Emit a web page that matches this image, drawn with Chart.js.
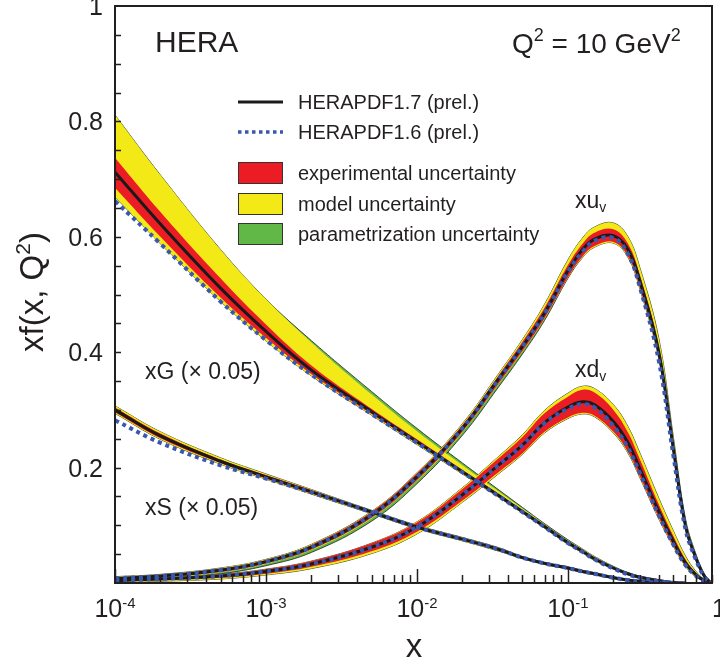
<!DOCTYPE html>
<html>
<head>
<meta charset="utf-8">
<script src="https://cdn.jsdelivr.net/npm/chart.js@4.4.1/dist/chart.umd.min.js"></script>
<style>
  html, body { margin: 0; padding: 0; background: #fff; }
  #wrap { width: 720px; height: 665px; position: relative; }
</style>
</head>
<body>
<div id="wrap"><canvas id="pdfChart"></canvas></div>
<script>
// x grid shared by every curve
const xs = [0.0001, 0.0002, 0.0005, 0.001, 0.002, 0.005, 0.01, 0.02, 0.035, 0.05, 0.07, 0.1, 0.125, 0.15, 0.2, 0.25, 0.3, 0.4, 0.5, 0.6, 0.7, 0.8, 0.88]

// xu_v
const uvCentral = [0.008, 0.012, 0.022, 0.037, 0.062, 0.118, 0.184, 0.268, 0.355, 0.41, 0.468, 0.541, 0.578, 0.596, 0.602, 0.578, 0.523, 0.40, 0.232, 0.10, 0.045, 0.012, 0.001]
const uvV16 = [0.008, 0.012, 0.022, 0.037, 0.062, 0.118, 0.184, 0.268, 0.354, 0.41, 0.467, 0.539, 0.574, 0.593, 0.598, 0.57, 0.512, 0.385, 0.22, 0.094, 0.042, 0.011, 0.001]
const uvExpLo = [0.006, 0.010, 0.019, 0.034, 0.058, 0.113, 0.178, 0.262, 0.347, 0.402, 0.459, 0.53, 0.566, 0.584, 0.591, 0.566, 0.511, 0.39, 0.224, 0.095, 0.042, 0.010, 0.0]
const uvExpHi = [0.010, 0.014, 0.025, 0.040, 0.066, 0.123, 0.19, 0.274, 0.361, 0.418, 0.477, 0.551, 0.588, 0.607, 0.613, 0.588, 0.533, 0.41, 0.24, 0.105, 0.048, 0.014, 0.002]
const uvModLo = [0.005, 0.009, 0.018, 0.033, 0.057, 0.112, 0.177, 0.261, 0.346, 0.401, 0.458, 0.529, 0.564, 0.582, 0.589, 0.564, 0.509, 0.388, 0.222, 0.094, 0.041, 0.009, 0.0]
const uvModHi = [0.011, 0.015, 0.026, 0.041, 0.067, 0.124, 0.191, 0.276, 0.364, 0.422, 0.483, 0.56, 0.598, 0.617, 0.624, 0.6, 0.546, 0.424, 0.252, 0.112, 0.052, 0.016, 0.002]
const uvParLo = [0.004, 0.008, 0.016, 0.03, 0.053, 0.107, 0.172, 0.256, 0.341, 0.397, 0.455, 0.528, 0.564, 0.582, 0.589, 0.564, 0.509, 0.388, 0.222, 0.094, 0.041, 0.009, 0.0]

// xd_v
const dvCentral = [0.004, 0.007, 0.012, 0.02, 0.033, 0.062, 0.097, 0.153, 0.205, 0.239, 0.278, 0.305, 0.314, 0.309, 0.28, 0.243, 0.198, 0.124, 0.072, 0.035, 0.015, 0.004, 0.0]
const dvV16 = [0.004, 0.007, 0.012, 0.02, 0.033, 0.062, 0.097, 0.153, 0.205, 0.239, 0.277, 0.302, 0.31, 0.304, 0.272, 0.234, 0.19, 0.117, 0.066, 0.031, 0.013, 0.003, 0.0]
const dvExpLo = [0.002, 0.005, 0.009, 0.016, 0.028, 0.055, 0.089, 0.143, 0.193, 0.225, 0.262, 0.287, 0.295, 0.29, 0.262, 0.227, 0.184, 0.113, 0.064, 0.03, 0.012, 0.003, 0.0]
const dvExpHi = [0.006, 0.009, 0.015, 0.024, 0.038, 0.069, 0.105, 0.163, 0.217, 0.253, 0.294, 0.323, 0.335, 0.33, 0.3, 0.261, 0.214, 0.136, 0.081, 0.041, 0.018, 0.005, 0.0]
const dvModLo = [0.001, 0.003, 0.007, 0.014, 0.025, 0.051, 0.085, 0.14, 0.19, 0.223, 0.26, 0.285, 0.293, 0.288, 0.26, 0.225, 0.182, 0.111, 0.063, 0.029, 0.011, 0.003, 0.0]
const dvModHi = [0.006, 0.009, 0.015, 0.024, 0.038, 0.069, 0.106, 0.165, 0.22, 0.257, 0.299, 0.329, 0.341, 0.337, 0.309, 0.271, 0.225, 0.147, 0.09, 0.047, 0.021, 0.006, 0.0]

// xG (x 0.05)
const gCentral = [0.712, 0.622, 0.511, 0.436, 0.369, 0.297, 0.245, 0.193, 0.151, 0.124, 0.098, 0.07, 0.055, 0.042, 0.026, 0.016, 0.01, 0.004, 0.001, 0, null, null, null]
const gV16 = [0.662, 0.588, 0.488, 0.421, 0.361, 0.293, 0.243, 0.192, 0.15, 0.123, 0.097, 0.069, 0.054, 0.041, 0.025, 0.015, 0.009, 0.003, 0.0, 0, null, null, null]
const gExpLo = [0.685, 0.6, 0.495, 0.425, 0.362, 0.293, 0.242, 0.191, 0.149, 0.122, 0.096, 0.068, 0.053, 0.04, 0.025, 0.015, 0.009, 0.003, 0.0005, 0, null, null, null]
const gExpHi = [0.737, 0.643, 0.528, 0.448, 0.377, 0.302, 0.249, 0.196, 0.154, 0.126, 0.1, 0.072, 0.057, 0.044, 0.027, 0.017, 0.011, 0.005, 0.0015, 0, null, null, null]
const gModLo = [0.669, 0.588, 0.488, 0.42, 0.359, 0.291, 0.24, 0.189, 0.148, 0.121, 0.095, 0.067, 0.052, 0.039, 0.024, 0.014, 0.008, 0.003, 0.0005, 0, null, null, null]
const gModHi = [0.811, 0.707, 0.578, 0.492, 0.417, 0.327, 0.263, 0.204, 0.158, 0.129, 0.102, 0.074, 0.059, 0.046, 0.029, 0.018, 0.012, 0.006, 0.002, 0, null, null, null]
const gParHi = [0.811, 0.707, 0.578, 0.492, 0.42, 0.332, 0.268, 0.208, 0.161, 0.131, 0.103, 0.075, 0.059, 0.046, 0.029, 0.018, 0.012, 0.006, 0.002, 0, null, null, null]

// xS (x 0.05)
const sCentral = [0.300, 0.255, 0.211, 0.184, 0.158, 0.123, 0.097, 0.076, 0.058, 0.044, 0.034, 0.026, 0.02, 0.016, 0.009, 0.005, 0.003, 0.001, 0, null, null, null, null]
const sV16 = [0.282, 0.243, 0.204, 0.181, 0.157, 0.123, 0.097, 0.076, 0.058, 0.044, 0.034, 0.026, 0.02, 0.016, 0.009, 0.005, 0.003, 0.001, 0, null, null, null, null]
const sExpLo = [0.296, 0.251, 0.208, 0.181, 0.155, 0.121, 0.095, 0.074, 0.056, 0.043, 0.033, 0.025, 0.019, 0.015, 0.008, 0.004, 0.002, 0.0005, 0, null, null, null, null]
const sExpHi = [0.304, 0.259, 0.214, 0.187, 0.161, 0.125, 0.099, 0.078, 0.06, 0.045, 0.035, 0.027, 0.021, 0.017, 0.01, 0.006, 0.004, 0.0015, 0, null, null, null, null]
const sModLo = [0.294, 0.249, 0.206, 0.18, 0.154, 0.12, 0.094, 0.073, 0.055, 0.042, 0.032, 0.024, 0.018, 0.014, 0.008, 0.004, 0.002, 0.0005, 0, null, null, null, null]
const sModHi = [0.307, 0.262, 0.217, 0.189, 0.162, 0.126, 0.1, 0.079, 0.061, 0.046, 0.036, 0.028, 0.022, 0.018, 0.011, 0.007, 0.004, 0.0015, 0, null, null, null, null]

// axis ticks
const yTickValues = [0.2, 0.4, 0.6, 0.8, 1]
const yTickLabels = ['0.2', '0.4', '0.6', '0.8', '1']
const xTickValues = [0.0001, 0.001, 0.01, 0.1, 1]
const xTickExps = ['-4', '-3', '-2', '-1', '']

const RED = '#ec1c24'
const YELLOW = '#f2e916'
const GREEN = '#62b847'
const BLUE = '#3a57b0'
const BLACK = '#1a1a1a'
const FONT = '"Liberation Sans", Arial, Helvetica, sans-serif'

function pts(arr) {
  return xs.map((x, i) => ({ x: x, y: arr[i] }))
}

function band(lo, hi, color, order, edge) {
  const line = edge ? '#222' : 'rgba(0,0,0,0)'
  return [
    { data: pts(lo), borderColor: line, borderWidth: 0.8, fill: false, order: order },
    { data: pts(hi), borderColor: line, borderWidth: 0.8, backgroundColor: color, fill: '-1', order: order }
  ]
}

function central(arr) {
  return { data: pts(arr), borderColor: BLACK, borderWidth: 3, fill: false, order: 2 }
}

function v16(arr) {
  return { data: pts(arr), borderColor: BLUE, borderWidth: 4, borderDash: [4, 4], borderCapStyle: 'butt', fill: false, order: 1 }
}

const datasets = [
  ...band(uvParLo, uvModHi, GREEN, 6, true),
  ...band(uvModLo, uvModHi, YELLOW, 5, false),
  ...band(uvExpLo, uvExpHi, RED, 4, false),
  ...band(dvModLo, dvModHi, GREEN, 6, true),
  ...band(dvModLo, dvModHi, YELLOW, 5, false),
  ...band(dvExpLo, dvExpHi, RED, 4, false),
  ...band(gModLo, gParHi, GREEN, 6, true),
  ...band(gModLo, gModHi, YELLOW, 5, false),
  ...band(gExpLo, gExpHi, RED, 4, false),
  ...band(sModLo, sModHi, GREEN, 6, true),
  ...band(sModLo, sModHi, YELLOW, 5, false),
  ...band(sExpLo, sExpHi, RED, 4, false),
  central(uvCentral), central(dvCentral), central(gCentral), central(sCentral),
  v16(uvV16), v16(dvV16), v16(gV16), v16(sV16)
]

// text made of runs: [text, size, baseline shift]
function drawRuns(ctx, runs, x, y, align) {
  let total = 0
  runs.forEach(r => {
    ctx.font = r[1] + 'px ' + FONT
    total += ctx.measureText(r[0]).width
  })
  let cx = align === 'center' ? x - total / 2 : (align === 'right' ? x - total : x)
  ctx.textAlign = 'left'
  ctx.textBaseline = 'alphabetic'
  runs.forEach(r => {
    ctx.font = r[1] + 'px ' + FONT
    ctx.fillText(r[0], cx, y + (r[2] || 0))
    cx += ctx.measureText(r[0]).width
  })
}

const decorations = {
  id: 'decorations',
  afterDraw(chart) {
    const ctx = chart.ctx
    const area = chart.chartArea
    const xScale = chart.scales.x
    const yScale = chart.scales.y
    ctx.save()
    ctx.fillStyle = '#231f20'
    ctx.strokeStyle = '#231f20'

    // frame
    ctx.lineWidth = 2
    ctx.strokeRect(area.left, area.top, area.right - area.left, area.bottom - area.top)

    // y ticks (inside)
    ctx.lineWidth = 1.5
    for (let v = 0.05; v < 1; v += 0.05) {
      const py = Math.round(yScale.getPixelForValue(v)) + 0.5
      ctx.beginPath()
      ctx.moveTo(area.left, py)
      ctx.lineTo(area.left + 6, py)
      ctx.stroke()
    }
    // x ticks (inside)
    for (let d = 0.0001; d < 1; d *= 10) {
      for (let m = 1; m <= 9; m++) {
        const v = d * m
        if (v > xScale.max) break
        const px = Math.round(xScale.getPixelForValue(v)) + 0.5
        ctx.beginPath()
        ctx.moveTo(px, area.bottom)
        ctx.lineTo(px, area.bottom - (m === 1 ? 14 : 8))
        ctx.stroke()
      }
    }

    // tick labels
    yTickValues.forEach((v, i) => {
      drawRuns(ctx, [[yTickLabels[i], 25]], area.left - 12, yScale.getPixelForValue(v) + 9, 'right')
    })
    xTickValues.forEach((v, i) => {
      const px = xScale.getPixelForValue(v)
      if (xTickExps[i]) {
        drawRuns(ctx, [['10', 25], [xTickExps[i], 15, -9]], px, 617, 'center')
      } else {
        drawRuns(ctx, [['1', 25]], px, 617, 'center')
      }
    })

    // axis titles
    drawRuns(ctx, [['x', 33]], 414, 657, 'center')
    ctx.save()
    ctx.translate(43, 292)
    ctx.rotate(-Math.PI / 2)
    drawRuns(ctx, [['xf(x, Q', 33], ['2', 21, -13], [')', 33]], 0, 0, 'center')
    ctx.restore()

    // headings
    drawRuns(ctx, [['HERA', 30]], 155, 52, 'left')
    drawRuns(ctx, [['Q', 28], ['2', 18, -12], [' = 10 GeV', 28], ['2', 18, -12]], 512, 53, 'left')

    // curve labels
    drawRuns(ctx, [['xu', 23], ['v', 14, 4]], 575, 208, 'left')
    drawRuns(ctx, [['xd', 23], ['v', 14, 4]], 575, 377, 'left')
    drawRuns(ctx, [['xG (\u00d7 0.05)', 23]], 145, 379, 'left')
    drawRuns(ctx, [['xS (\u00d7 0.05)', 23]], 145, 515, 'left')

    // legend
    ctx.lineWidth = 3
    ctx.strokeStyle = BLACK
    ctx.beginPath()
    ctx.moveTo(238, 102)
    ctx.lineTo(283, 102)
    ctx.stroke()
    ctx.strokeStyle = BLUE
    ctx.lineWidth = 3.5
    ctx.setLineDash([3.5, 3.5])
    ctx.beginPath()
    ctx.moveTo(238, 132)
    ctx.lineTo(283, 132)
    ctx.stroke()
    ctx.setLineDash([])
    ctx.fillStyle = '#231f20'
    drawRuns(ctx, [['HERAPDF1.7 (prel.)', 20]], 298, 109, 'left')
    drawRuns(ctx, [['HERAPDF1.6 (prel.)', 20]], 298, 139, 'left')

    const boxes = [
      [RED, 162, 'experimental uncertainty', 180],
      [YELLOW, 193, 'model uncertainty', 211],
      [GREEN, 223, 'parametrization uncertainty', 241]
    ]
    boxes.forEach(b => {
      ctx.fillStyle = b[0]
      ctx.fillRect(238, b[1], 44, 21)
      ctx.lineWidth = 1
      ctx.strokeStyle = '#333'
      ctx.strokeRect(238.5, b[1] + 0.5, 44, 21)
      ctx.fillStyle = '#231f20'
      drawRuns(ctx, [[b[2], 20]], 298, b[3], 'left')
    })
    ctx.restore()
  }
}

new Chart(document.getElementById('pdfChart'), {
  type: 'line',
  data: { datasets: datasets },
  options: {
    responsive: true,
    maintainAspectRatio: false,
    animation: false,
    layout: { padding: { left: 115, right: 8, top: 6, bottom: 82 } },
    elements: {
      point: { radius: 0, hoverRadius: 0 },
      line: { tension: 0.4, borderJoinStyle: 'round' }
    },
    plugins: {
      legend: { display: false },
      tooltip: { enabled: false }
    },
    scales: {
      x: { type: 'logarithmic', min: 0.0001, max: 0.9, display: false },
      y: { type: 'linear', min: 0, max: 1, display: false }
    }
  },
  plugins: [decorations]
})
</script>
</body>
</html>
